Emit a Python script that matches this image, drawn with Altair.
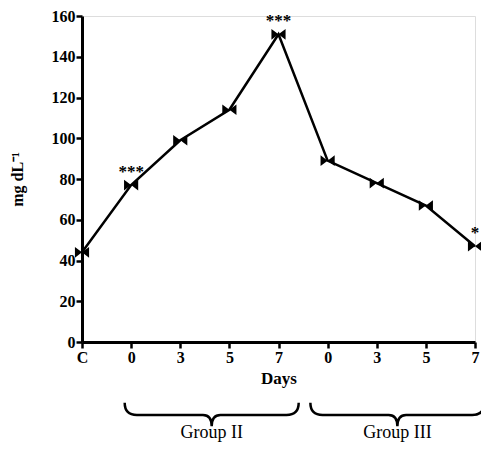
import altair as alt
import pandas as pd

tick_labels = ["C", "0", "3", "5", "7", "0", "3", "5", "7"]
values = [44, 77, 99, 114, 151, 89, 78, 67, 47]
stars = ["", "***", "", "", "***", "", "", "", "*"]
group_names = ["Group II", "Group III"]
group_centers = [2.64, 6.42]

idx = list(range(len(values)))
df = pd.DataFrame({"i": idx, "v": values, "s": stars})
sdf = df[df["s"] != ""]
gdf = pd.DataFrame({"g": group_names, "c": group_centers})

FONT = "Liberation Serif"
label_expr = "[" + ",".join("'%s'" % t for t in tick_labels) + "][datum.value]"

xs = alt.Scale(domain=[0, 8], nice=False, zero=False)
ys = alt.Scale(domain=[0, 160], nice=False)

x_enc = alt.X("i:Q", scale=xs, axis=alt.Axis(
    values=idx, labelExpr=label_expr, title="Days", grid=False,
    domainWidth=3, domainColor="black", tickColor="black", tickWidth=2.5, tickSize=6,
    labelFont=FONT, labelFontWeight="bold", labelFontSize=16, labelColor="black",
    labelPadding=1, titleFont=FONT, titleFontSize=17, titleFontWeight="bold",
    titleColor="black", titlePadding=5, labelFlush=False))
y_enc = alt.Y("v:Q", scale=ys, axis=alt.Axis(
    values=list(range(0, 161, 20)), title="mg dL⁻¹", grid=False,
    domainWidth=3, domainColor="black", tickColor="black", tickWidth=2.5, tickSize=6,
    labelFont=FONT, labelFontWeight="bold", labelFontSize=16, labelColor="black",
    labelPadding=1, titleFont=FONT, titleFontSize=16, titleFontWeight="bold",
    titleColor="black", titlePadding=26))

base = alt.Chart(df)
line = base.mark_line(color="black", strokeWidth=2.5).encode(x=x_enc, y=y_enc)
pts = base.mark_point(
    shape="M-1,-0.75L0,0L-1,0.75Z M1,-0.75L0,0L1,0.75Z",
    filled=True, color="black", opacity=1, size=200).encode(x="i:Q", y="v:Q")
txt = alt.Chart(sdf).mark_text(font=FONT, fontWeight="bold", fontSize=17,
                               dy=-13, color="black").encode(
    x="i:Q", y="v:Q", text="s:N")

brace = alt.Chart(gdf).mark_point(
    shape="M-1,-0.14Q-1,0,-0.86,0L-0.1,0Q0,0,0,0.13Q0,0,0.1,0L0.86,0Q1,0,1,-0.14",
    filled=False, color="black", strokeWidth=2.5, opacity=1, size=174 * 174).encode(
    x="c:Q", y=alt.value(399))
glab = alt.Chart(gdf).mark_text(font=FONT, fontSize=18, color="black",
                                baseline="alphabetic").encode(
    x="c:Q", y=alt.value(422), text="g:N")

chart = alt.layer(line, pts, txt, brace, glab).properties(
    width=393, height=326,
    autosize=alt.AutoSizeParams(type="none"),
    padding={"left": 74, "top": 8, "right": 6, "bottom": 101}
).configure_view(stroke=None).configure(background="white")

chart.save("out.html", embed_options={"renderer": "svg", "actions": False})
